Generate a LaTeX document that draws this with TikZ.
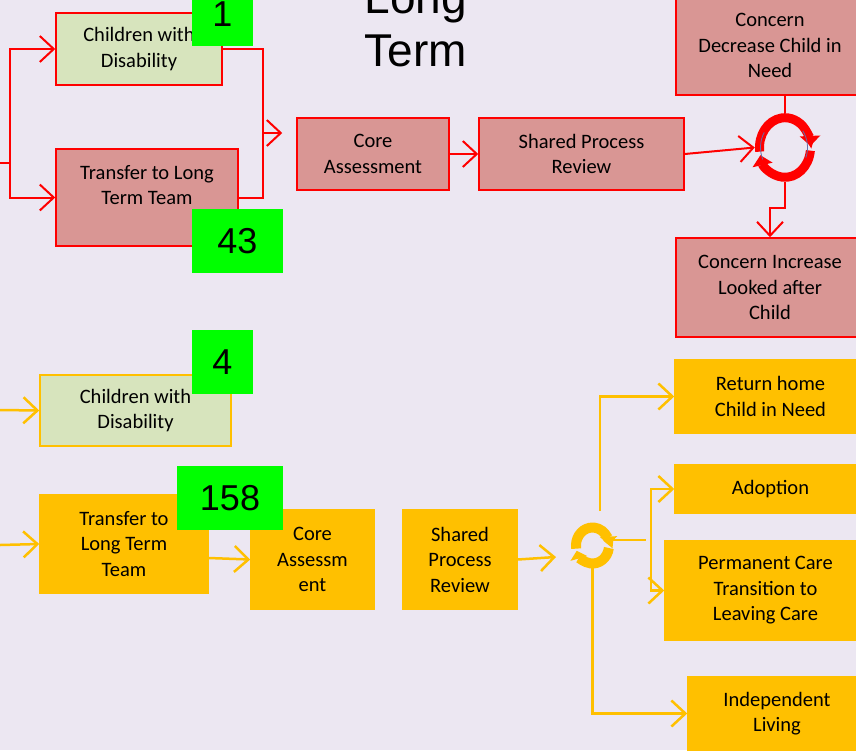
\documentclass[tikz,border=0pt]{standalone}
\usepackage{fontspec}
\setmainfont{Carlito}
\newfontfamily\numfont{Liberation Sans}
\usetikzlibrary{arrows.meta,shapes.geometric,calc}

\definecolor{bg}{RGB}{236,231,242}
\definecolor{rosefill}{RGB}{217,150,148}
\definecolor{palegreen}{RGB}{215,228,189}
\definecolor{amber}{RGB}{255,192,0}
\definecolor{brightgreen}{RGB}{0,255,0}
\definecolor{slate}{RGB}{100,110,170}

\tikzset{
  box/.style={line width=1.5pt, inner sep=0pt, align=center,
    font=\fontsize{20.5}{25.5}\selectfont},
  redbox/.style={box, draw=red, fill=rosefill},
  greenredbox/.style={box, draw=red, fill=palegreen},
  greenambbox/.style={box, draw=amber, fill=palegreen},
  ambbox/.style={box, draw=amber, fill=amber},
  countbox/.style={fill=brightgreen, inner sep=0pt, minimum height=64pt,
    font=\numfont\fontsize{36}{40}\selectfont},
  redline/.style={draw=red, line width=2pt},
  ambline/.style={draw=amber, line width=2.5pt},
  arr/.style={-{Straight Barb[length=14pt,width=26pt]}},
  hub/.style={ellipse, inner sep=0pt},
  title/.style={font=\numfont\fontsize{46}{52}\selectfont, anchor=base},
}

\begin{document}
\begin{tikzpicture}[x=1pt,y=-1pt]
\useasboundingbox (0,0) rectangle (856,750);
\clip (0,0) rectangle (856,750);
\fill[bg] (0,0) rectangle (856,750);

% heading
\node[title] (ttl1) at (416,13) {Long};
\node[title] (ttl2) at (416,66) {Term};

% ---------- upper flow ----------
\node[greenredbox, minimum width=166pt, minimum height=72pt] (cwd1) at (139,49) {Children with\\Disability};
\node[redbox, minimum width=182pt, minimum height=97pt] (tr1) at (147,197.5) {Transfer to Long\\Term Team\\\mbox{}};
\node[redbox, minimum width=152pt, minimum height=72pt] (core1) at (373,154) {Core\\Assessment};
\node[redbox, minimum width=205pt, minimum height=72pt] (shr1) at (581.5,154) {Shared Process\\Review};
\node[redbox, minimum width=188pt, minimum height=99pt] (dec) at (770,45.5) {Concern\\Decrease Child in\\Need};
\node[redbox, minimum width=188pt, minimum height=99pt] (inc) at (770,287.5) {Concern Increase\\Looked after\\Child};
\node[hub, minimum width=60pt, minimum height=69pt] (cyc1) at (785,147.5) {};

\coordinate (in1) at (0,163);
\coordinate (join1) at (263,133);

\draw[redline, arr] (in1) -- ++(10,0) |- (cwd1.west);
\draw[redline, arr] (in1) -- ++(10,0) |- (tr1.west);
\draw[redline] (cwd1.east) -| (join1);
\draw[redline] (tr1.east) -| (join1);
\draw[redline, arr, shorten >=14pt] (join1) -- (join1 -| core1.west);
\draw[redline, arr] (core1.east) -- (shr1.west);
\draw[redline, arr] (shr1.east) -- (cyc1.west);
\draw[redline] (cyc1.north) -- (cyc1.north |- dec.south);
\draw[redline, arr] (cyc1.south) -- ++(0,26) -| (inc.north);

% review cycle (two curved arrows forming a ring)
\draw[red, line width=9pt, -{Triangle[length=10pt,width=20pt]}]
  ($(cyc1.center)+(-188:25.5 and 29.8)$) arc[start angle=-188, end angle=-3, x radius=25.5, y radius=29.8];
\draw[red, line width=9pt, -{Triangle[length=10pt,width=20pt]}]
  ($(cyc1.center)+(6:25.5 and 29.8)$) arc[start angle=6, end angle=165, x radius=25.5, y radius=29.8];
\draw[slate, line width=0.8pt]
  ($(cyc1.center)+(-148:24.5 and 28.5)$) arc[start angle=-148, end angle=-205, x radius=24.5, y radius=28.5];
\draw[slate, line width=0.8pt]
  ($(cyc1.center)+(-38:22.5 and 27)$) arc[start angle=-38, end angle=22, x radius=22.5, y radius=27];

% ---------- lower flow ----------
\node[greenambbox, minimum width=191pt, minimum height=71pt] (cwd4) at (135.5,410.5) {Children with\\Disability};
\node[ambbox, minimum width=168pt, minimum height=98pt] (tr2) at (124,544) {Transfer to\\Long Term\\Team};
\node[ambbox, minimum width=123pt, minimum height=99pt] (core2) at (312.5,559.5) {Core\\Assessm\\ent};
\node[ambbox, minimum width=114pt, minimum height=99pt] (shr2) at (460,559.5) {Shared\\Process\\Review};
\node[ambbox, minimum width=191pt, minimum height=73pt] (ret) at (770.5,396.5) {Return home\\Child in Need};
\node[ambbox, minimum width=191pt, minimum height=48pt] (adopt) at (770.5,489) {Adoption};
\node[ambbox, minimum width=201pt, minimum height=99pt] (perm) at (765.5,590.5) {Permanent Care\\Transition to\\Leaving Care};
\node[ambbox, minimum width=178pt, minimum height=73pt] (indep) at (777,713.5) {Independent\\Living};
\node[hub, minimum width=45pt, minimum height=45pt] (cyc2) at (592.5,545.5) {};

\coordinate (in2) at (0,410);
\coordinate (in3) at (0,545);
\coordinate (tip2) at (556,557);
\coordinate (up2) at (600,511);
\coordinate (split2) at (651,540);

\draw[ambline, arr] (in2) -- (cwd4.west);
\draw[ambline, arr] (in3) -- (tr2.west);
\draw[ambline, arr] ($(tr2.east)+(0,14)$) -- (core2.west);
\draw[ambline, arr] (shr2.east) -- (tip2);
\draw[ambline, arr] (up2) |- (ret.west);
\draw[ambline] ($(cyc2.center)+(20,-5.5)$) -- ++(33.5,0);
\draw[ambline, arr] (split2) |- (adopt.west);
\draw[ambline, arr] (split2) |- (perm.west);
\draw[ambline, arr] (cyc2.south) |- (indep.west);

% review cycle
\draw[amber, line width=10pt, -{Triangle[length=8pt,width=17pt]}]
  ($(cyc2.center)+(-190:16.5 and 18)$) arc[start angle=-190, end angle=-3, x radius=16.5, y radius=18];
\draw[amber, line width=10pt, -{Triangle[length=8pt,width=17pt]}]
  ($(cyc2.center)+(8:16.5 and 18)$) arc[start angle=8, end angle=163, x radius=16.5, y radius=18];

% ---------- case counts ----------
\node[countbox, minimum width=61pt] (n1) at (222.5,14) {1};
\node[countbox, minimum width=91pt] (n43) at (237.5,241) {43};
\node[countbox, minimum width=61pt] (n4) at (222.5,362) {4};
\node[countbox, minimum width=106pt] (n158) at (230,498) {158};
\end{tikzpicture}
\end{document}
